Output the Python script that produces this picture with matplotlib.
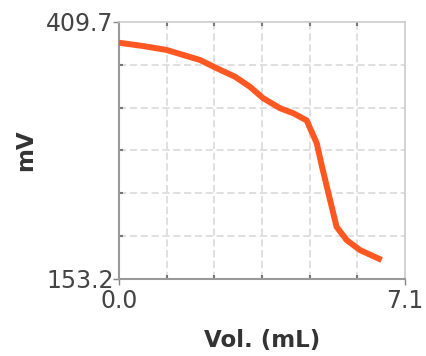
import matplotlib
matplotlib.use("Agg")
import matplotlib.pyplot as plt
import numpy as np

vol = [0.0, 0.60, 1.18, 2.01, 2.43, 2.88, 3.25, 3.58, 4.00, 4.33, 4.66, 4.91, 5.03, 5.16, 5.28, 5.40, 5.65, 5.98, 6.52]
mv = [389.0, 385.7, 381.8, 371.8, 363.5, 355.1, 345.1, 333.6, 323.6, 318.6, 311.4, 288.6, 267.0, 245.3, 225.4, 205.4, 192.1, 182.1, 172.2]
x_ticks = [0.0, 7.1]
y_ticks = [153.2, 409.7]
x_labels = ["0.0", "7.1"]
y_labels = ["153.2", "409.7"]

fig = plt.figure(figsize=(4.27, 3.56), dpi=100)
ax = fig.add_axes([119/427, 1-279/356, (405-119)/427, (279-22)/356])

ax.plot(vol, mv, color="#FF5722", lw=4.3, solid_capstyle="butt", solid_joinstyle="round", zorder=3)

ax.set_xlim(x_ticks[0], x_ticks[1])
ax.set_ylim(y_ticks[0], y_ticks[1])
ax.set_xticks(x_ticks)
ax.set_xticklabels(x_labels)
ax.set_yticks(y_ticks)
ax.set_yticklabels(y_labels)
ax.set_xticks(np.linspace(x_ticks[0], x_ticks[1], 7)[1:-1], minor=True)
ax.set_yticks(np.linspace(y_ticks[0], y_ticks[1], 7)[1:-1], minor=True)

ax.tick_params(which="major", direction="out", length=4, width=1, color="#888888",
               labelsize=17, labelcolor="#444444", pad=0)
ax.tick_params(axis="x", which="major", pad=3)
ax.tick_params(which="minor", direction="in", length=3, width=1.5, color="#777777",
               top=True, right=False)
ax.grid(which="minor", color="#dddddd", linestyle=(0, (4, 2)), lw=1.3)

for s in ["left", "bottom"]:
    ax.spines[s].set_color("#999999")
    ax.spines[s].set_linewidth(1.5)
for s in ["top", "right"]:
    ax.spines[s].set_color("#cccccc")
    ax.spines[s].set_linewidth(1.2)

ax.set_xlabel("Vol. (mL)", fontsize=16.5, fontweight="bold", color="#333333", labelpad=12)
ax.set_ylabel("mV", fontsize=16.5, fontweight="bold", color="#333333", labelpad=6)

fig.savefig("out.png", dpi=100)
